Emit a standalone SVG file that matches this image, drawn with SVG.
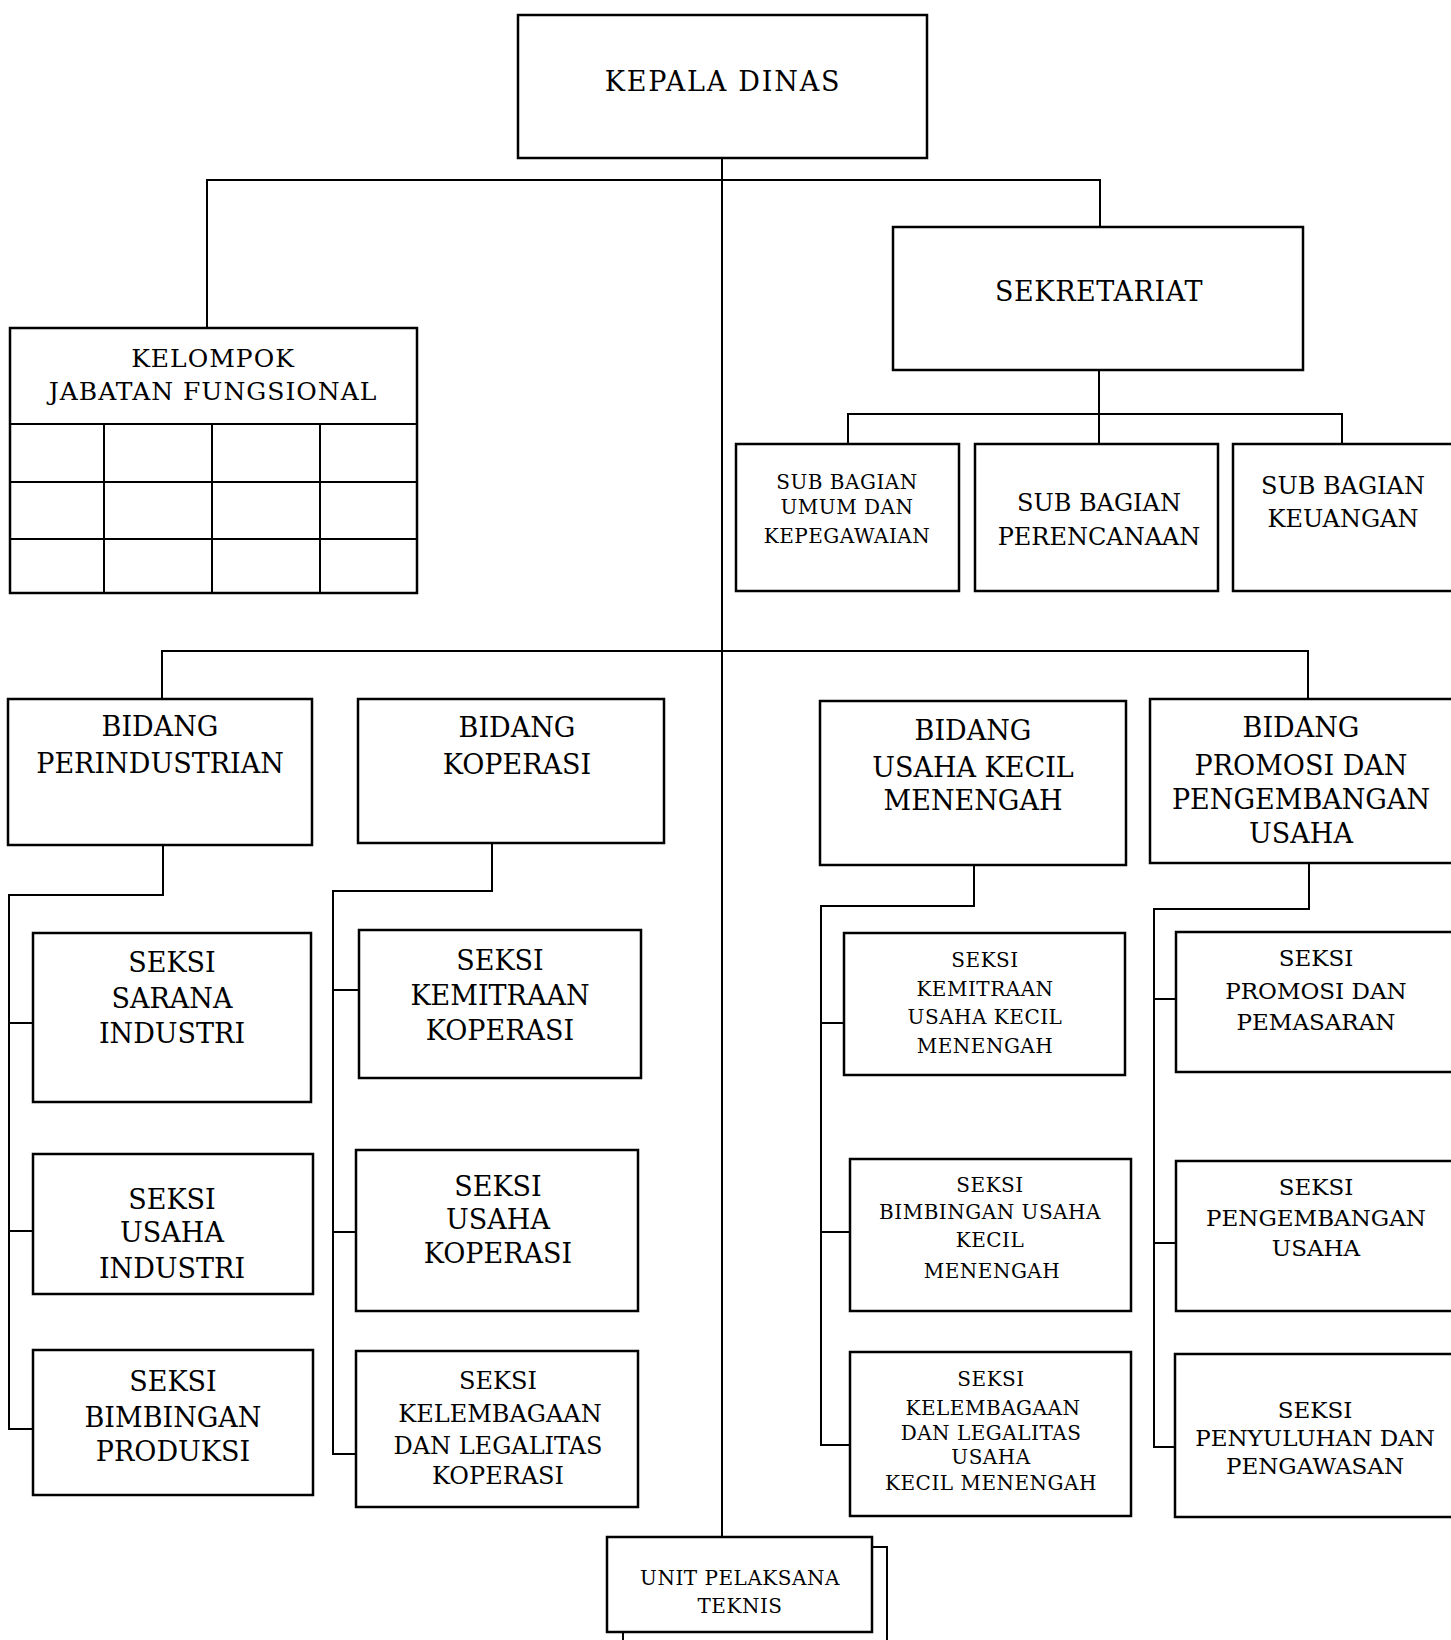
<svg xmlns="http://www.w3.org/2000/svg" width="1451" height="1640" viewBox="0 0 1451 1640">
<style>
.b{fill:#fff;stroke:#000;stroke-width:2.5}
.c{fill:none;stroke:#000;stroke-width:2}
.t{font-family:"DejaVu Serif","Liberation Serif",serif;text-anchor:middle;fill:#000}
.l{font-size:27px}
.m{font-size:23px}
.s{font-size:20px;letter-spacing:0.5px}
</style>
<rect width="1451" height="1640" fill="#fff"/>
<g id="connectors">
<path class="c" d="M722 157V1537" stroke-width="1.3"/>
<path class="c" d="M207 328V180H1100V227"/>
<path class="c" d="M1099 370V444M848 444V414H1342V444"/>
<path class="c" d="M162 699V651H1308V699"/>
<path class="c" d="M163 845V895H9V1429H33M9 1023H33M9 1231H33"/>
<path class="c" d="M492 843V891H333V1454H356M333 990H359M333 1232H356"/>
<path class="c" d="M974 865V906H821V1445H850M821 1023H844M821 1232H850"/>
<path class="c" d="M1309 863V909H1154V1447H1175M1154 999H1176M1154 1243H1176"/>
</g>
<g id="kepala"><rect class="b" x="518" y="15" width="409" height="143"/><text class="t l" x="723" y="91" font-size="28" letter-spacing="1.8">KEPALA DINAS</text></g>
<g id="sekretariat"><rect class="b" x="893" y="227" width="410" height="143"/><text class="t l" x="1099" y="301" letter-spacing="0.6">SEKRETARIAT</text></g>
<g id="kelompok"><rect class="b" x="10" y="328" width="407" height="265"/>
<path class="c" d="M10 424H417M10 482H417M10 539H417M104 424V593M212 424V593M320 424V593"/>
<text class="t" x="213" y="367" font-size="25" letter-spacing="1">KELOMPOK</text><text class="t" x="213" y="400" font-size="25" letter-spacing="1">JABATAN FUNGSIONAL</text></g>
<g id="sub-umum"><rect class="b" x="736" y="444" width="223" height="147"/><text class="t s" x="847" y="489" font-size="19">SUB BAGIAN</text><text class="t s" x="847" y="514" font-size="19">UMUM DAN</text><text class="t s" x="847" y="543" font-size="19">KEPEGAWAIAN</text></g>
<g id="sub-perencanaan"><rect class="b" x="975" y="444" width="243" height="147"/><text class="t" x="1099" y="511" font-size="24">SUB BAGIAN</text><text class="t" x="1099" y="545" font-size="24">PERENCANAAN</text></g>
<g id="sub-keuangan"><rect class="b" x="1233" y="444" width="230" height="147"/><text class="t" x="1343" y="494" font-size="24">SUB BAGIAN</text><text class="t" x="1343" y="527" font-size="24">KEUANGAN</text></g>
<g id="bidang-perindustrian"><rect class="b" x="8" y="699" width="304" height="146"/><text class="t l" x="160" y="736">BIDANG</text><text class="t l" x="160" y="773">PERINDUSTRIAN</text></g>
<g id="bidang-koperasi"><rect class="b" x="358" y="699" width="306" height="144"/><text class="t l" x="517" y="737">BIDANG</text><text class="t l" x="517" y="774">KOPERASI</text></g>
<g id="bidang-ukm"><rect class="b" x="820" y="701" width="306" height="164"/><text class="t l" x="973" y="740">BIDANG</text><text class="t l" x="973" y="777">USAHA KECIL</text><text class="t l" x="973" y="810">MENENGAH</text></g>
<g id="bidang-promosi"><rect class="b" x="1150" y="699" width="320" height="164"/><text class="t l" x="1301" y="737">BIDANG</text><text class="t l" x="1301" y="775">PROMOSI DAN</text><text class="t l" x="1301" y="809">PENGEMBANGAN</text><text class="t l" x="1301" y="843">USAHA</text></g>
<g id="seksi-sarana"><rect class="b" x="33" y="933" width="278" height="169"/><text class="t l" x="172" y="972">SEKSI</text><text class="t l" x="172" y="1008">SARANA</text><text class="t l" x="172" y="1043">INDUSTRI</text></g>
<g id="seksi-usaha-industri"><rect class="b" x="33" y="1154" width="280" height="140"/><text class="t l" x="172" y="1209">SEKSI</text><text class="t l" x="172" y="1242">USAHA</text><text class="t l" x="172" y="1278">INDUSTRI</text></g>
<g id="seksi-bimbingan-produksi"><rect class="b" x="33" y="1350" width="280" height="145"/><text class="t l" x="173" y="1391">SEKSI</text><text class="t l" x="173" y="1427">BIMBINGAN</text><text class="t l" x="173" y="1461">PRODUKSI</text></g>
<g id="seksi-kemitraan-koperasi"><rect class="b" x="359" y="930" width="282" height="148"/><text class="t l" x="500" y="970">SEKSI</text><text class="t l" x="500" y="1005">KEMITRAAN</text><text class="t l" x="500" y="1040">KOPERASI</text></g>
<g id="seksi-usaha-koperasi"><rect class="b" x="356" y="1150" width="282" height="161"/><text class="t l" x="498" y="1196">SEKSI</text><text class="t l" x="498" y="1229">USAHA</text><text class="t l" x="498" y="1263">KOPERASI</text></g>
<g id="seksi-kelembagaan-koperasi"><rect class="b" x="356" y="1351" width="282" height="156"/><text class="t" x="498" y="1389" font-size="24">SEKSI</text><text class="t" x="500" y="1422" font-size="24">KELEMBAGAAN</text><text class="t" x="498" y="1454" font-size="24">DAN LEGALITAS</text><text class="t" x="498" y="1484" font-size="24">KOPERASI</text></g>
<g id="seksi-kemitraan-ukm"><rect class="b" x="844" y="933" width="281" height="142"/><text class="t s" x="985" y="967">SEKSI</text><text class="t s" x="985" y="996">KEMITRAAN</text><text class="t s" x="985" y="1024">USAHA KECIL</text><text class="t s" x="985" y="1053">MENENGAH</text></g>
<g id="seksi-bimbingan-ukm"><rect class="b" x="850" y="1159" width="281" height="152"/><text class="t s" x="990" y="1192">SEKSI</text><text class="t s" x="990" y="1219">BIMBINGAN USAHA</text><text class="t s" x="990" y="1247">KECIL</text><text class="t s" x="992" y="1278">MENENGAH</text></g>
<g id="seksi-kelembagaan-ukm"><rect class="b" x="850" y="1352" width="281" height="164"/><text class="t s" x="991" y="1386">SEKSI</text><text class="t s" x="993" y="1415">KELEMBAGAAN</text><text class="t s" x="991" y="1440">DAN LEGALITAS</text><text class="t s" x="991" y="1464">USAHA</text><text class="t s" x="991" y="1490">KECIL MENENGAH</text></g>
<g id="seksi-promosi-pemasaran"><rect class="b" x="1176" y="932" width="290" height="140"/><text class="t m" x="1316" y="966">SEKSI</text><text class="t m" x="1316" y="999">PROMOSI DAN</text><text class="t m" x="1316" y="1030">PEMASARAN</text></g>
<g id="seksi-pengembangan-usaha"><rect class="b" x="1176" y="1161" width="290" height="150"/><text class="t m" x="1316" y="1195">SEKSI</text><text class="t m" x="1316" y="1226">PENGEMBANGAN</text><text class="t m" x="1316" y="1256">USAHA</text></g>
<g id="seksi-penyuluhan"><rect class="b" x="1175" y="1354" width="290" height="163"/><text class="t m" x="1315" y="1418">SEKSI</text><text class="t m" x="1315" y="1446">PENYULUHAN DAN</text><text class="t m" x="1315" y="1474">PENGAWASAN</text></g>
<g id="upt"><path class="c" d="M872 1547H887V1645M623 1632V1645"/><rect class="b" x="607" y="1537" width="265" height="95"/><text class="t s" x="740" y="1585">UNIT PELAKSANA</text><text class="t s" x="740" y="1613">TEKNIS</text></g>
</svg>
